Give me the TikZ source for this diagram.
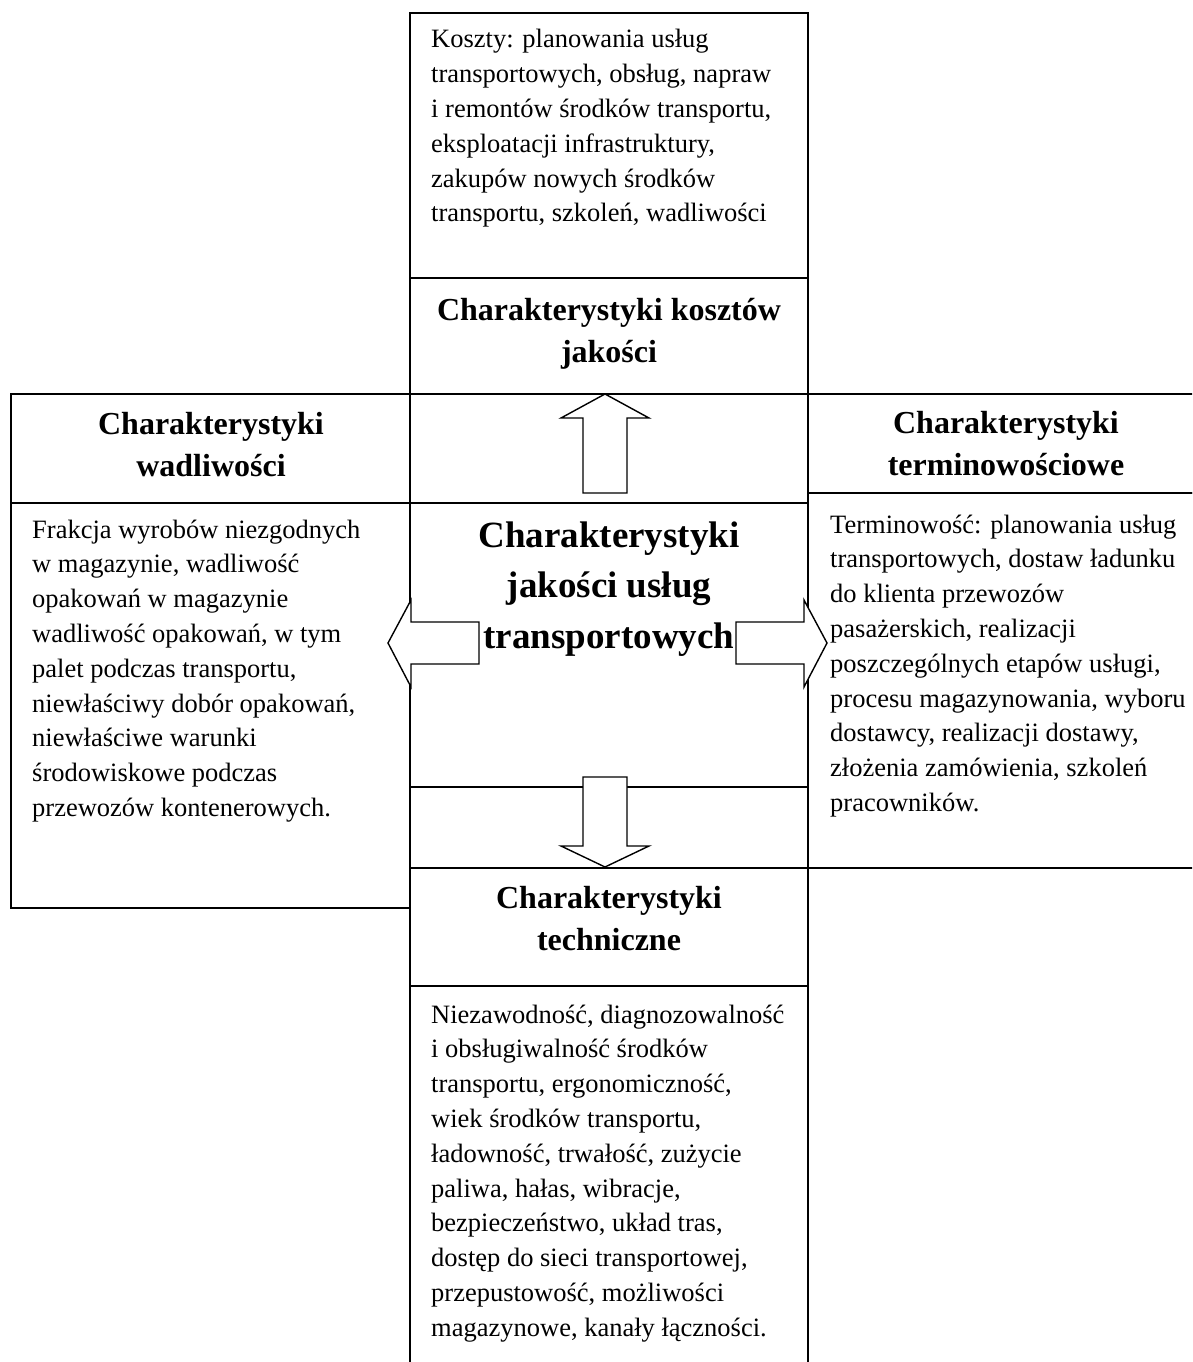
\documentclass[tikz,border=0pt]{standalone}
\usepackage{fontspec}
\setmainfont{Liberation Serif}
% stacked lines whose reference point is the first baseline
\newcommand{\stackL}[1]{\vtop{\halign{##\hfil\cr #1\crcr}}}
\newcommand{\stackC}[1]{\vtop{\halign{\hfil##\hfil\cr #1\crcr}}}
\begin{document}
\begin{tikzpicture}[x=1pt,y=-1pt,
  cell/.style={draw,line width=1.8pt,inner sep=0pt,outer sep=0pt,anchor=north west},
  blockarrow/.style={draw,fill=white,line width=1.4pt,line join=miter},
  body/.style={inner sep=0pt,anchor=base west,font=\fontsize{26.5}{34.8}\selectfont},
  head/.style={inner sep=0pt,anchor=base,font=\fontsize{32}{42}\selectfont\bfseries},
  title/.style={inner sep=0pt,anchor=base,font=\fontsize{37}{50.5}\selectfont\bfseries}]
\useasboundingbox (0,0) rectangle (1192,1362);
\clip (0,0) rectangle (1192,1362);
\fill[white] (0,0) rectangle (1192,1362);

% central column
\node[cell,minimum width=398pt,minimum height=265pt] (costbox) at (410,13) {};
\node[cell,minimum width=398pt,minimum height=116pt] (costhead) at (410,278) {};
\node[cell,minimum width=398pt,minimum height=109pt] (gapup) at (410,394) {};
\node[cell,minimum width=398pt,minimum height=284pt] (centre) at (410,503) {};
\node[cell,minimum width=398pt,minimum height=81pt] (gapdown) at (410,787) {};
\node[cell,minimum width=398pt,minimum height=118pt] (techhead) at (410,868) {};
\node[cell,minimum width=398pt,minimum height=400pt] (techbox) at (410,986) {};

% left side
\node[cell,minimum width=399pt,minimum height=109pt] (defhead) at (11,394) {};
\node[cell,minimum width=399pt,minimum height=405pt] (defbox) at (11,503) {};

% right side
\node[cell,minimum width=396pt,minimum height=99pt] (timehead) at (808,394) {};
\node[cell,minimum width=396pt,minimum height=375pt] (timebox) at (808,493) {};

% block arrows leaving the central box
\draw[blockarrow] (605,394) -- (649,418) -- (627,418) -- (627,493) -- (583,493) -- (583,418) -- (561,418) -- cycle;
\draw[blockarrow] (605,867) -- (649,846) -- (627,846) -- (627,777) -- (583,777) -- (583,846) -- (561,846) -- cycle;
\draw[blockarrow] (388,643) -- (411,600) -- (411,622) -- (479,622) -- (479,664) -- (411,664) -- (411,687) -- cycle;
\draw[blockarrow] (827,643) -- (804,600) -- (804,622) -- (736,622) -- (736,664) -- (804,664) -- (804,687) -- cycle;

% headings
\node[head] (costtitle) at (609,320) {\stackC{Charakterystyki kosztów\cr jakości}};
\node[head] (deftitle) at (211,434) {\stackC{Charakterystyki\cr wadliwości}};
\node[head] (timetitle) at (1006,433) {\stackC{Charakterystyki\cr terminowościowe}};
\node[head] (techtitle) at (609,908) {\stackC{Charakterystyki\cr techniczne}};
\node[title] (maintitle) at (609,547) {\stackC{Charakterystyki\cr jakości usług\cr transportowych}};

% descriptions
\node[body] (costtext) at (431,48) {\stackL{Koszty: planowania usług\cr transportowych, obsług, napraw\cr i remontów środków transportu,\cr eksploatacji infrastruktury,\cr zakupów nowych środków\cr transportu, szkoleń, wadliwości}};
\node[body] (deftext) at (32,538) {\stackL{Frakcja wyrobów niezgodnych\cr w magazynie, wadliwość\cr opakowań w magazynie\cr wadliwość opakowań, w tym\cr palet podczas transportu,\cr niewłaściwy dobór opakowań,\cr niewłaściwe warunki\cr środowiskowe podczas\cr przewozów kontenerowych.}};
\node[body] (timetext) at (830,533) {\stackL{Terminowość: planowania usług\cr transportowych, dostaw ładunku\cr do klienta przewozów\cr pasażerskich, realizacji\cr poszczególnych etapów usługi,\cr procesu magazynowania, wyboru\cr dostawcy, realizacji dostawy,\cr złożenia zamówienia, szkoleń\cr pracowników.}};
\node[body] (techtext) at (431,1023) {\stackL{Niezawodność, diagnozowalność\cr i obsługiwalność środków\cr transportu, ergonomiczność,\cr wiek środków transportu,\cr ładowność, trwałość, zużycie\cr paliwa, hałas, wibracje,\cr bezpieczeństwo, układ tras,\cr dostęp do sieci transportowej,\cr przepustowość, możliwości\cr magazynowe, kanały łączności.}};
\end{tikzpicture}
\end{document}
